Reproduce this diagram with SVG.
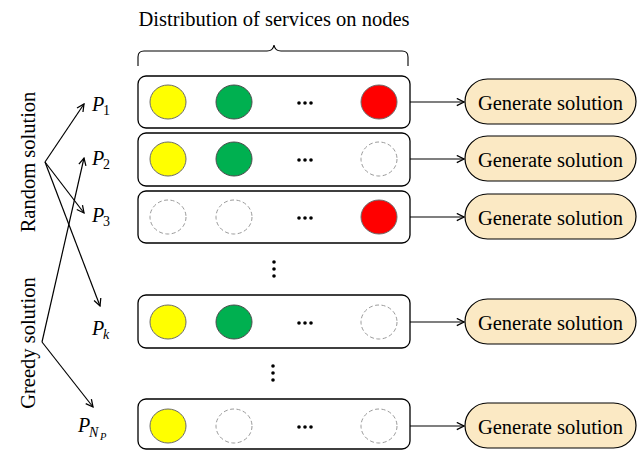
<svg xmlns="http://www.w3.org/2000/svg" width="643" height="452" viewBox="0 0 643 452">
  <style>
    .t { font-family: "Liberation Serif", "Times New Roman", serif; font-size: 20.5px; fill: #000; }
    .p { font-family: "Liberation Serif", "Times New Roman", serif; font-style: italic; font-size: 20px; fill: #000; }
    .sub { font-family: "Liberation Serif", "Times New Roman", serif; font-size: 14px; fill: #000; }
    .row { fill: #fff; stroke: #000; stroke-width: 1.3; }
    .pill { fill: #fbe9c4; stroke: #000; stroke-width: 1.2; }
    .y { fill: #ffff00; stroke: #6b6b6b; stroke-width: 1; }
    .g { fill: #00b050; stroke: #4d4d4d; stroke-width: 1; }
    .r { fill: #ff0000; stroke: #6b6b6b; stroke-width: 1; }
    .e { fill: #fff; stroke: #9a9a9a; stroke-width: 1; stroke-dasharray: 4 2.5; }
    .dot { fill: #000; }
    .ln { stroke: #000; stroke-width: 1.2; fill: none; marker-end: url(#ah); }
  </style>
  <defs>
    <marker id="ah" viewBox="0 0 10 10" refX="9" refY="5" markerWidth="9" markerHeight="9" markerUnits="userSpaceOnUse" orient="auto">
      <path d="M1,1 L9,5 L1,9" fill="none" stroke="#000" stroke-width="1.4"/>
    </marker>
    <g id="hdots">
      <circle class="dot" cx="-6" cy="0" r="1.8"/>
      <circle class="dot" cx="0" cy="0" r="1.8"/>
      <circle class="dot" cx="6" cy="0" r="1.8"/>
    </g>
    <g id="vdots">
      <circle class="dot" cx="0" cy="-7" r="1.8"/>
      <circle class="dot" cx="0" cy="0" r="1.8"/>
      <circle class="dot" cx="0" cy="7" r="1.8"/>
    </g>
  </defs>

  <!-- header and brace -->
  <g id="header">
    <text class="t" x="274" y="26" text-anchor="middle">Distribution of services on nodes</text>
    <path d="M138,66 L138,57 Q138,51 144,51 L267,51 Q273,51 274,45 Q275,51 281,51 L402,51 Q408,51 408,57 L408,66" fill="none" stroke="#000" stroke-width="1.1"/>
  </g>

  <!-- side labels -->
  <g id="random-label">
    <text class="t" transform="translate(35,162) rotate(-90)" text-anchor="middle">Random solution</text>
  </g>
  <g id="greedy-label">
    <text class="t" transform="translate(35,343) rotate(-90)" text-anchor="middle">Greedy solution</text>
  </g>

  <!-- population labels -->
  <g id="p1"><text class="p" x="92" y="111">P</text><text class="sub" x="103" y="115">1</text></g>
  <g id="p2"><text class="p" x="92" y="165">P</text><text class="sub" x="103" y="169">2</text></g>
  <g id="p3"><text class="p" x="92" y="222">P</text><text class="sub" x="103" y="226">3</text></g>
  <g id="pk"><text class="p" x="92" y="335">P</text><text class="p" x="103" y="339" style="font-size:14px">k</text></g>
  <g id="pnp"><text class="p" x="78" y="432">P</text><text class="p" x="89" y="437" style="font-size:14px">N</text><text class="p" x="100" y="440" style="font-size:10.5px">P</text></g>

  <!-- rows -->
  <g id="row1">
    <rect class="row" x="138" y="76" width="272" height="52" rx="8"/>
    <ellipse class="y" cx="168" cy="102" rx="18" ry="17"/>
    <ellipse class="g" cx="234" cy="102" rx="18" ry="17"/>
    <use href="#hdots" x="305" y="103"/>
    <ellipse class="r" cx="379" cy="102" rx="18" ry="17"/>
  </g>
  <g id="row2">
    <rect class="row" x="138" y="133" width="272" height="53" rx="8"/>
    <ellipse class="y" cx="168" cy="159" rx="18" ry="17"/>
    <ellipse class="g" cx="234" cy="159" rx="18" ry="17"/>
    <use href="#hdots" x="305" y="160"/>
    <ellipse class="e" cx="379" cy="159" rx="18" ry="17"/>
  </g>
  <g id="row3">
    <rect class="row" x="138" y="191" width="272" height="52" rx="8"/>
    <ellipse class="e" cx="168" cy="217" rx="18" ry="17"/>
    <ellipse class="e" cx="234" cy="217" rx="18" ry="17"/>
    <use href="#hdots" x="305" y="218"/>
    <ellipse class="r" cx="379" cy="217" rx="18" ry="17"/>
  </g>
  <use id="vdots1" href="#vdots" x="274" y="269"/>
  <g id="rowk">
    <rect class="row" x="138" y="295" width="272" height="53" rx="8"/>
    <ellipse class="y" cx="168" cy="322" rx="18" ry="17"/>
    <ellipse class="g" cx="234" cy="322" rx="18" ry="17"/>
    <use href="#hdots" x="305" y="323"/>
    <ellipse class="e" cx="379" cy="322" rx="18" ry="17"/>
  </g>
  <use id="vdots2" href="#vdots" x="273" y="373"/>
  <g id="rownp">
    <rect class="row" x="138" y="399" width="272" height="50" rx="8"/>
    <ellipse class="y" cx="168" cy="426" rx="18" ry="17"/>
    <ellipse class="e" cx="234" cy="426" rx="18" ry="17"/>
    <use href="#hdots" x="305" y="427"/>
    <ellipse class="e" cx="379" cy="426" rx="18" ry="17"/>
  </g>

  <!-- generate solution nodes -->
  <g id="gen1"><rect class="pill" x="465" y="79" width="171" height="45" rx="22.5"/><text class="t" x="550.5" y="109.5" text-anchor="middle">Generate solution</text></g>
  <g id="gen2"><rect class="pill" x="465" y="136" width="171" height="45" rx="22.5"/><text class="t" x="550.5" y="166.5" text-anchor="middle">Generate solution</text></g>
  <g id="gen3"><rect class="pill" x="465" y="194" width="171" height="45" rx="22.5"/><text class="t" x="550.5" y="224.5" text-anchor="middle">Generate solution</text></g>
  <g id="genk"><rect class="pill" x="465" y="299" width="171" height="45" rx="22.5"/><text class="t" x="550.5" y="329.5" text-anchor="middle">Generate solution</text></g>
  <g id="gennp"><rect class="pill" x="465" y="403" width="171" height="45" rx="22.5"/><text class="t" x="550.5" y="433.5" text-anchor="middle">Generate solution</text></g>

  <!-- connectors -->
  <g id="connectors">
    <line class="ln" x1="410" y1="102" x2="464" y2="102"/>
    <line class="ln" x1="410" y1="159" x2="464" y2="159"/>
    <line class="ln" x1="410" y1="217" x2="464" y2="217"/>
    <line class="ln" x1="410" y1="322" x2="464" y2="322"/>
    <line class="ln" x1="410" y1="426" x2="464" y2="426"/>
    <line class="ln" x1="45" y1="162" x2="84" y2="104"/>
    <line class="ln" x1="45" y1="162" x2="84" y2="213"/>
    <line class="ln" x1="45" y1="162" x2="100" y2="306"/>
    <line class="ln" x1="42" y1="342" x2="84" y2="158"/>
    <line class="ln" x1="42" y1="342" x2="93" y2="407"/>
  </g>
</svg>
